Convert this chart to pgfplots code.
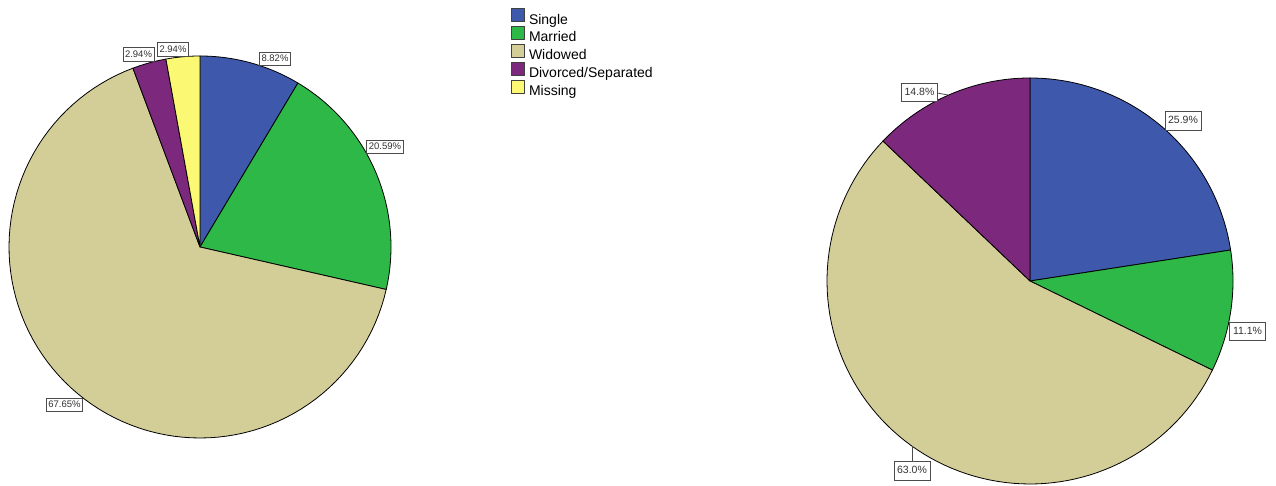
\documentclass[border=0pt]{standalone}
\usepackage{pgfplots}
\pgfplotsset{compat=1.18}
\usepackage{fontspec}
\setmainfont{Liberation Sans}
\definecolor{cSingle}{RGB}{62,88,172}
\definecolor{cMarried}{RGB}{46,184,72}
\definecolor{cWidowed}{RGB}{211,206,151}
\definecolor{cDivorced}{RGB}{124,40,125}
\definecolor{cMissing}{RGB}{251,248,115}
% slice: cx, cy, r, cumulative start, cumulative end, total, colour, extra options
\newcommand{\slice}[8]{%
  \addplot[fill=#7, draw=black, line width=0.8pt, line join=round, domain={90-360*(#5)/(#6)}:{90-360*(#4)/(#6)}, samples=90, #8]
    ({#1+#3*cos(x)},{#2+#3*sin(x)}) -- (axis cs:#1,#2) -- cycle;}
\begin{document}
\begin{tikzpicture}
\begin{axis}[
  scale only axis, width=1276pt, height=486pt,
  xmin=0, xmax=1276, ymin=0, ymax=486,
  hide axis, clip=false,
  legend style={at={(511/1276,478/486)}, anchor=north west, draw=none, fill=none,
    inner sep=0pt, font=\fontsize{14}{15}\selectfont, row sep=-2pt,
    nodes={inner sep=1pt, text height=10pt, text depth=3pt}},
  legend cell align=left,
  legend image code/.code={\draw[#1, draw=black!75, line width=0.8pt] (0pt,-1pt) rectangle (13pt,12pt);},
  /tikz/every odd column/.append style={column sep=3pt},
]
% Left pie (total 102.94)
\slice{200}{239}{191}{0}{8.82}{102.94}{cSingle}{}
\slice{200}{239}{191}{8.82}{29.41}{102.94}{cMarried}{}
\slice{200}{239}{191}{29.41}{97.06}{102.94}{cWidowed}{}
\slice{200}{239}{191}{97.06}{100.00}{102.94}{cDivorced}{}
\slice{200}{239}{191}{100.00}{102.94}{102.94}{cMissing}{}
\legend{Single,Married,Widowed,Divorced/Separated,Missing}
% Right pie (total 114.8)
\slice{1030}{205}{203}{0}{25.9}{114.8}{cSingle}{forget plot}
\slice{1030}{205}{203}{25.9}{37.0}{114.8}{cMarried}{forget plot}
\slice{1030}{205}{203}{37.0}{100.0}{114.8}{cWidowed}{forget plot}
\slice{1030}{205}{203}{100.0}{114.8}{114.8}{cDivorced}{forget plot}
% labels
\tikzset{lab/.style={draw=black!70, fill=white, line width=0.8pt, inner xsep=2pt, inner ysep=2.5pt,
  text height=7pt, text depth=1.5pt, font=\fontsize{9.5}{10}\selectfont, text=black!80},
  labr/.style={lab, inner xsep=3.2pt, inner ysep=4.5pt, text height=7.5pt, text depth=2pt, font=\fontsize{10.5}{11}\selectfont}}
\node[lab] at (axis cs:275,427) {8.82\%};
\node[lab] at (axis cs:385,339) {20.59\%};
\node[lab] at (axis cs:64.5,81) {67.65\%};
\node[lab] at (axis cs:138.5,431.5) {2.94\%};
\node[lab] at (axis cs:173,436.5) {2.94\%};
\draw[black!70, line width=0.8pt] (axis cs:937,393) -- (axis cs:948,391);
\draw[black!70, line width=0.8pt] (axis cs:912,25) -- (axis cs:912,40);
\node[labr] at (axis cs:919.5,393.5) {14.8\%};
\node[labr] at (axis cs:1183,365) {25.9\%};
\node[labr] at (axis cs:1247.5,154.5) {11.1\%};
\node[labr] at (axis cs:912,15) {63.0\%};
\path (rel axis cs:0,0) rectangle (rel axis cs:1,1);
\end{axis}
\end{tikzpicture}
\end{document}
